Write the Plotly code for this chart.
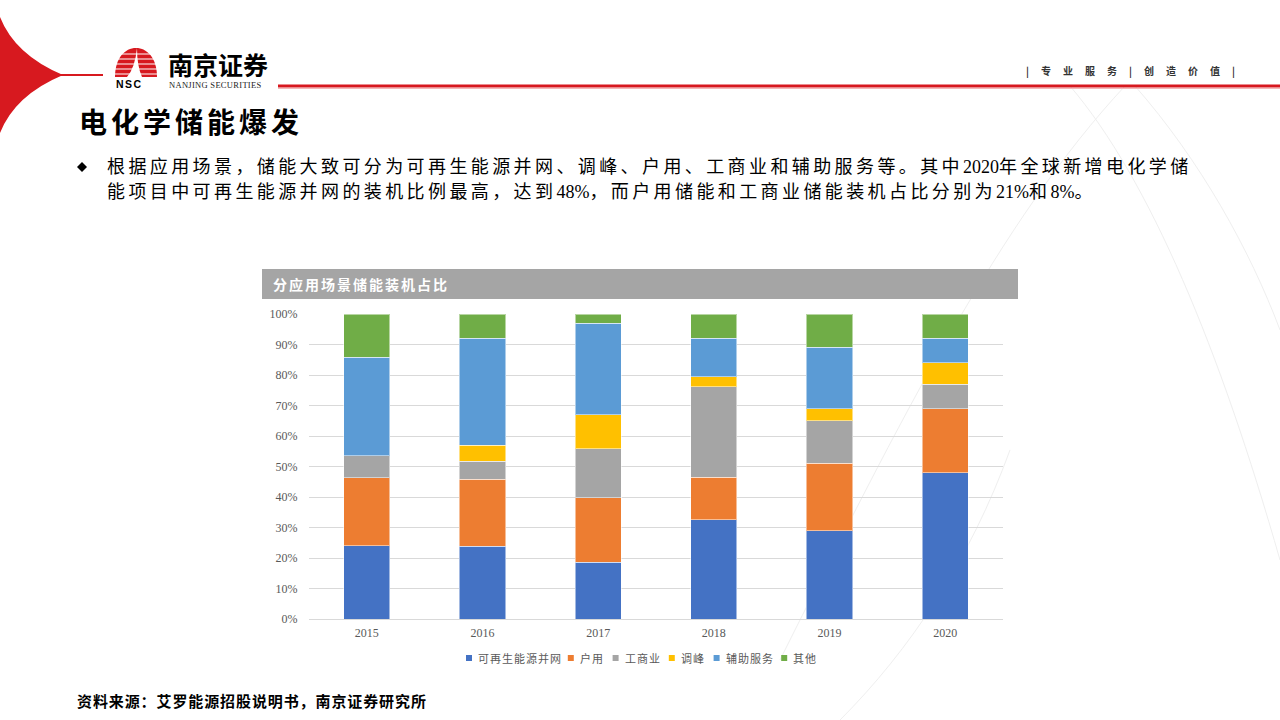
import re
import plotly.graph_objects as go

# ---------------- data ----------------
years = ["2015", "2016", "2017", "2018", "2019", "2020"]
series_names = ["可再生能源并网", "户用", "工商业", "调峰", "辅助服务", "其他"]
renewable = [24.0, 23.8, 18.6, 32.6, 28.9, 48.0]
household = [22.3, 22.0, 21.1, 13.8, 22.1, 21.0]
commercial = [7.2, 6.0, 16.1, 29.8, 14.0, 8.0]
peak_shaving = [0.0, 5.1, 11.1, 3.2, 3.9, 7.1]
ancillary = [32.3, 35.1, 30.1, 12.6, 20.2, 7.9]
other = [14.2, 8.0, 3.0, 8.0, 10.9, 8.0]
series_values = [renewable, household, commercial, peak_shaving, ancillary, other]
colors = ["#4472C4", "#ED7D31", "#A5A5A5", "#FFC000", "#5B9BD5", "#70AD47"]

page_title = "电化学储能爆发"
body_line1 = "根据应用场景，储能大致可分为可再生能源并网、调峰、户用、工商业和辅助服务等。其中2020年全球新增电化学储"
body_line2 = "能项目中可再生能源并网的装机比例最高，达到48%，而户用储能和工商业储能装机占比分别为21%和8%。"
chart_title = "分应用场景储能装机占比"
source_text = "资料来源：艾罗能源招股说明书，南京证券研究所"
slogan = "|专业服务|创造价值|"

# ---------------- layout geometry ----------------
L, T, W, H = 309, 314, 694, 305  # plot area in px


def px(x):
    return (x - L) / W


def py(y):
    return (T + H - y) / H


def path(cmds):
    out = []
    for c in cmds:
        if isinstance(c, str):
            out.append(c)
        else:
            out.append(f"{px(c[0]):.5f},{py(c[1]):.5f}")
    return " ".join(out)


fig = go.Figure()
for name, vals, col in zip(series_names, series_values, colors):
    fig.add_trace(go.Bar(
        x=years, y=vals, name=name,
        marker=dict(color=col, line=dict(color="rgba(255,255,255,0.5)", width=1)),
        showlegend=False,
    ))

shapes = []
annotations = []

# faint background arcs
for cmds in [
    ["M", (1125, 86), "C", (1000, 220), (900, 420), (780, 660)],
    ["M", (1070, 86), "C", (1150, 180), (1220, 350), (1280, 560)],
    ["M", (1135, 86), "C", (1200, 160), (1250, 250), (1280, 330)],
    ["M", (1010, 450), "C", (970, 560), (910, 650), (840, 720)],
]:
    shapes.append(dict(type="path", xref="paper", yref="paper", path=path(cmds),
                       line=dict(color="#EFEFEF", width=1), layer="below"))

# red swoosh at top-left
shapes.append(dict(type="path", xref="paper", yref="paper",
                   path=path(["M", (0, 17), "Q", (15, 55), (63, 75), "Q", (15, 95), (0, 133), "Z"]),
                   fillcolor="#D7191F", line=dict(width=0)))
shapes.append(dict(type="line", xref="paper", yref="paper",
                   x0=px(55), x1=px(103), y0=py(75), y1=py(75),
                   line=dict(color="#D7191F", width=2)))
# header red line
shapes.append(dict(type="line", xref="paper", yref="paper",
                   x0=px(278), x1=px(1280), y0=py(86), y1=py(86),
                   line=dict(color="#D7191F", width=3)))
shapes.append(dict(type="line", xref="paper", yref="paper",
                   x0=px(278), x1=px(1280), y0=py(88.5), y1=py(88.5),
                   line=dict(color="#F4B8B8", width=1)))

# logo dome
shapes.append(dict(type="path", xref="paper", yref="paper",
                   path=path(["M", (115, 77), "C", (115, 58), (125, 48), (136, 48),
                              "C", (147, 48), (157, 58), (157, 77), "Z"]),
                   fillcolor="#D7191F", line=dict(width=0)))
for yy in [54, 59, 64, 69, 74]:
    shapes.append(dict(type="line", xref="paper", yref="paper",
                       x0=px(113), x1=px(159), y0=py(yy), y1=py(yy),
                       line=dict(color="white", width=1.2)))
shapes.append(dict(type="path", xref="paper", yref="paper",
                   path=path(["M", (127, 77), "Q", (135, 68), (137, 48),
                              "Q", (137, 66), (142, 77), "Z"]),
                   fillcolor="white", line=dict(width=0)))

# chart title bar
shapes.append(dict(type="rect", xref="paper", yref="paper",
                   x0=px(262), x1=px(1018), y0=py(299), y1=py(269),
                   fillcolor="#A5A5A5", line=dict(width=0)))

# bullet diamond
shapes.append(dict(type="path", xref="paper", yref="paper",
                   path=path(["M", (82, 162), "L", (87, 167), "L", (82, 172), "L", (77, 167), "Z"]),
                   fillcolor="black", line=dict(width=0)))

CJK = "Noto Sans CJK SC"
SERIF_CJK = "Liberation Serif, Noto Sans CJK SC"


def ann(text, x, y, size, color="black", family=CJK, xanchor="left"):
    annotations.append(dict(text=text, x=px(x), y=py(y), xref="paper", yref="paper",
                            xanchor=xanchor, yanchor="middle", showarrow=False,
                            font=dict(size=size, color=color, family=family)))


def ls(text, sp):
    return f'<span style="letter-spacing:{sp}px">{text}</span>'


def ls_cjk(text, sp):
    # letter-spacing on CJK runs only; ASCII runs (digits, %) kept tight
    parts = re.findall(r"[\x00-\x7f]+|[^\x00-\x7f]+", text)
    out = []
    for p in parts:
        if p.isascii():
            out.append(ls(p, 0))
        else:
            out.append(ls(p, sp))
    return "".join(out)


# logo text
ann("<b>南京证券</b>", 166, 64, 25)
ann(ls("NANJING SECURITIES", 0.3), 167, 85, 8.5, color="#222222", family="Liberation Serif")
ann("<b>" + ls("NSC", 1.5) + "</b>", 114, 84, 10.5, family="Liberation Sans")
ann("<b>" + ls(slogan, 12) + "</b>", 1024, 71, 10, color="#333333")

# title and body
ann("<b>" + ls(page_title, 4) + "</b>", 77, 121, 28)
ann(ls_cjk(body_line1, 3.4), 105, 167, 18, family=SERIF_CJK)
ann(ls_cjk(body_line2, 3.4), 105, 192, 18, family=SERIF_CJK)

# chart title
ann("<b>" + ls(chart_title, 2) + "</b>", 271, 284, 14, color="white")

# source
ann("<b>" + ls(source_text, 0.9) + "</b>", 75, 700, 15)

# manual legend
cursor = 466
char_w = 11.4
for name, col in zip(series_names, colors):
    shapes.append(dict(type="rect", xref="paper", yref="paper",
                       x0=px(cursor), x1=px(cursor + 6), y0=py(661), y1=py(655),
                       fillcolor=col, line=dict(width=0)))
    ann(ls(name, 1), cursor + 10, 658, 11, color="#595959")
    cursor += 10 + len(name) * char_w + 12

fig.update_layout(
    width=1280, height=720,
    margin=dict(l=L, r=1280 - L - W, t=T, b=720 - T - H, pad=0),
    paper_bgcolor="white", plot_bgcolor="rgba(0,0,0,0)",
    barmode="stack", bargap=0.6,
    showlegend=False,
    shapes=shapes, annotations=annotations,
    xaxis=dict(type="category", showgrid=False, showline=False, zeroline=False,
               ticks="outside", ticklen=3, tickcolor="rgba(0,0,0,0)",
               tickfont=dict(family="Liberation Serif", size=12, color="#595959")),
    yaxis=dict(range=[0, 100], dtick=10, ticksuffix="%", showgrid=True,
               gridcolor="#D9D9D9", gridwidth=1, zeroline=True, zerolinecolor="#D9D9D9",
               zerolinewidth=1, showline=False,
               ticks="outside", ticklen=8, tickcolor="rgba(0,0,0,0)",
               tickfont=dict(family="Liberation Serif", size=12, color="#595959")),
)

fig.write_html("out.html")
